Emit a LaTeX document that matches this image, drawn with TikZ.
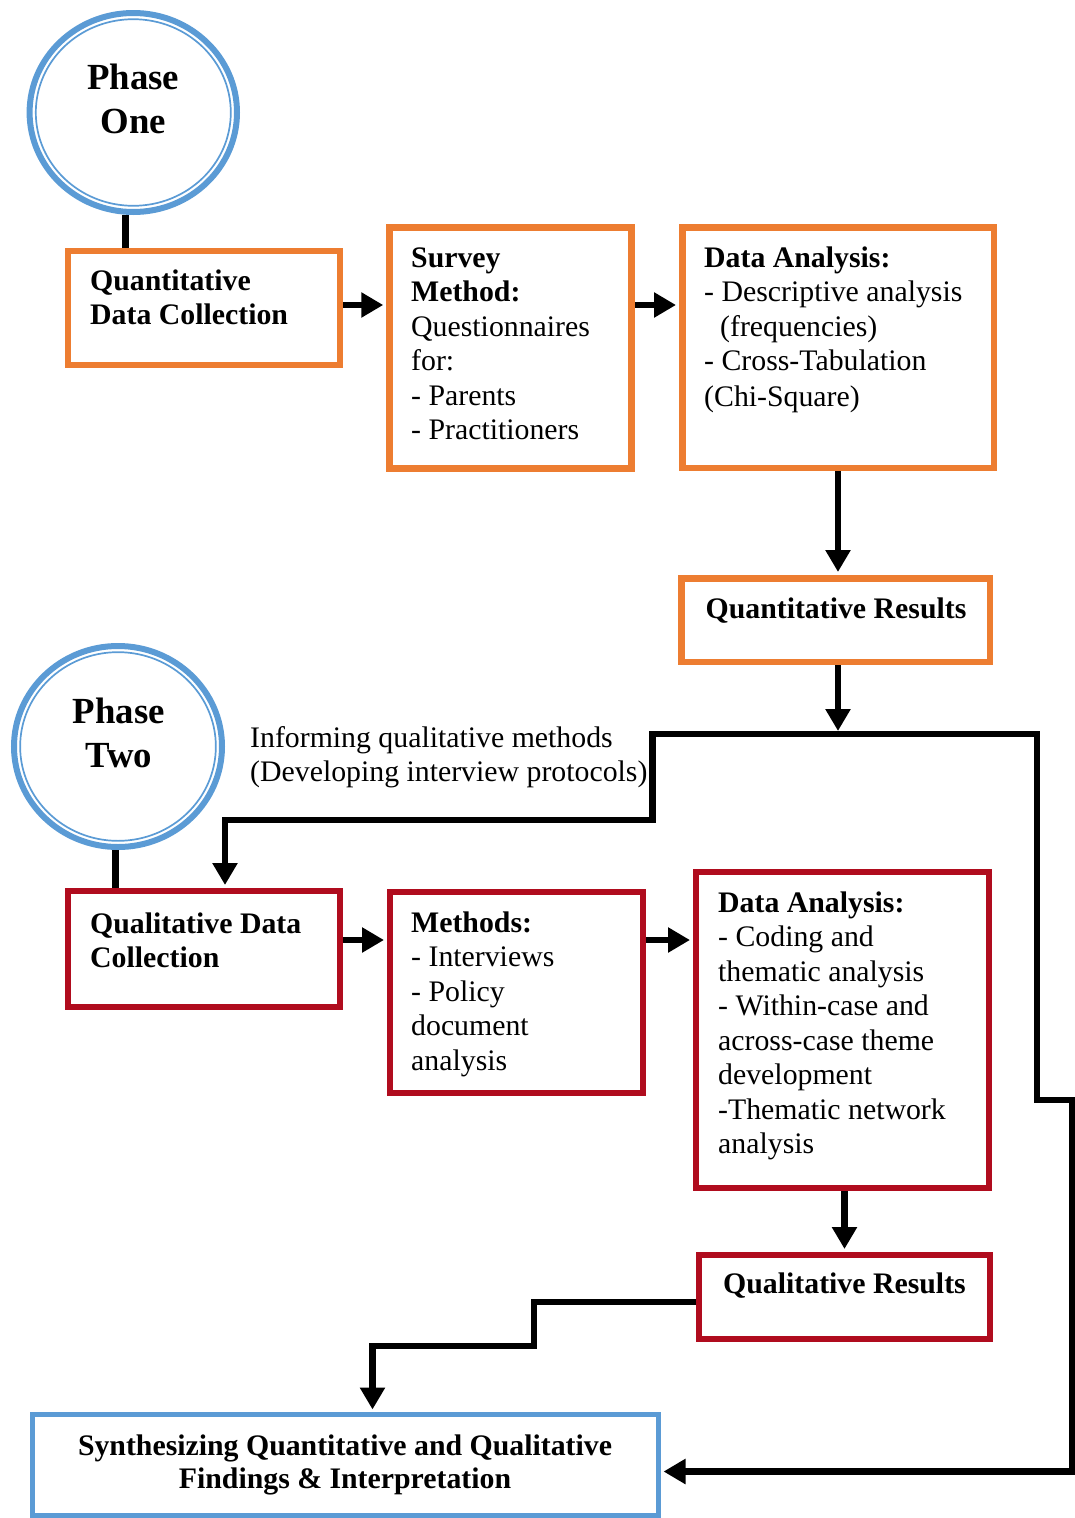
\documentclass[tikz,border=0pt]{standalone}
\usepackage{fontspec}
\setmainfont{Liberation Serif}
\usetikzlibrary{arrows.meta,shapes.geometric}
\definecolor{qorange}{RGB}{237,125,49}
\definecolor{qred}{RGB}{176,12,30}
\definecolor{qblue}{RGB}{91,155,213}
\begin{document}
\begin{tikzpicture}[x=1pt,y=-1pt,
  box/.style={draw, rectangle, inner sep=0pt},
  quant/.style={box, draw=qorange, line width=6.5pt},
  qual/.style={box, draw=qred, line width=6pt},
  synth/.style={box, draw=qblue, line width=5pt},
  phase/.style={draw=qblue, ellipse, line width=6pt, inner sep=0pt},
  ring/.style={draw=qblue, line width=1.7pt},
  body/.style={inner sep=0pt, anchor=base west, font=\fontsize{29.8}{34.5}\selectfont},
  phasetxt/.style={inner sep=0pt, anchor=base, font=\fontsize{36.8}{44}\selectfont},
  link/.style={line width=6.5pt, draw=black},
  arrow/.style={link, -{Triangle[length=22pt,width=24pt]}, shorten >=3pt},
]
\useasboundingbox (0,0) rectangle (1074,1518);

% ---- phase markers
\node[phase, minimum width=207.4pt, minimum height=199pt] (p1) at (133.3,112.5) {};
\draw[ring] (p1.center) ellipse [x radius=97.5pt, y radius=93.3pt];
\node[phasetxt] (pt1) at (133.3,89) {\parbox[t]{200pt}{\centering\bfseries Phase\\One}};

\node[phase, minimum width=208pt, minimum height=201pt] (p2) at (118,746.5) {};
\draw[ring] (p2.center) ellipse [x radius=97.85pt, y radius=94.35pt];
\node[phasetxt] (pt2) at (119,723) {\parbox[t]{200pt}{\centering\bfseries Phase\\Two}};

% ---- quantitative strand
\node[quant, minimum width=272pt, minimum height=114pt] (q1) at (204,308) {};
\node[quant, minimum width=242pt, minimum height=241pt] (sv) at (510.5,348) {};
\node[quant, minimum width=311.5pt, minimum height=240.5pt] (da1) at (838,347.5) {};
\node[quant, minimum width=308.5pt, minimum height=83.5pt] (qr) at (835.5,620) {};

\node[body] (t1) at (90,290) {\parbox[t]{250pt}{\raggedright\bfseries Quantitative\\Data Collection}};
\node[body] (t2) at (411,267) {\parbox[t]{220pt}{\raggedright\textbf{Survey}\\\textbf{Method:}\\Questionnaires\\for:\\- Parents\\- Practitioners}};
\node[body] (t3) at (704,267) {\parbox[t]{290pt}{\raggedright\textbf{Data Analysis:}\\- Descriptive analysis\\\hspace*{16pt}(frequencies)\\- Cross-Tabulation\\[1.5pt](Chi-Square)}};
\node[body, anchor=base] (t4) at (836,618) {\bfseries Quantitative Results};

% ---- qualitative strand
\node[qual, minimum width=272pt, minimum height=116pt] (q2) at (204,949) {};
\node[qual, minimum width=253pt, minimum height=201pt] (mt) at (516.5,992.5) {};
\node[qual, minimum width=293pt, minimum height=316.5pt] (da2) at (842.5,1029.75) {};
\node[qual, minimum width=291pt, minimum height=84pt] (ql) at (844.5,1297) {};

\node[body] (t5) at (90,933) {\parbox[t]{250pt}{\raggedright\bfseries Qualitative Data\\Collection}};
\node[body] (t6) at (411,932) {\parbox[t]{230pt}{\raggedright\textbf{Methods:}\\- Interviews\\- Policy\\document\\analysis}};
\node[body] (t7) at (718,912) {\parbox[t]{270pt}{\raggedright\textbf{Data Analysis:}\\- Coding and\\thematic analysis\\- Within-case and\\across-case theme\\development\\-Thematic network\\analysis}};
\node[body, anchor=base] (t8) at (844.5,1293) {\bfseries Qualitative Results};

\node[body] (t9) at (250,747) {\parbox[t]{420pt}{\raggedright Informing qualitative methods\\(Developing interview protocols)}};

% ---- synthesis
\node[synth, minimum width=626pt, minimum height=101pt] (syn) at (345.5,1465) {};
\node[inner sep=0pt, anchor=base, font=\fontsize{29.8}{33}\selectfont] (t10) at (345,1455)
  {\parbox[t]{620pt}{\centering\bfseries Synthesizing Quantitative and Qualitative\\Findings \& Interpretation}};

% ---- phase links
\coordinate (a1) at ([xshift=-7.8pt]p1.south);
\draw[link] (a1) -- (a1 |- q1.north);
\coordinate (a2) at ([xshift=-2.5pt]p2.south);
\draw[link] (a2) -- (a2 |- q2.north);

% ---- quantitative flow
\coordinate (y1) at (0,305);
\draw[arrow] (q1.east |- y1) -- (sv.west |- y1);
\draw[arrow] (sv.east |- y1) -- (da1.west |- y1);
\draw[arrow] (da1.south) -- (da1.south |- qr.north);

\coordinate (j) at (838,734);
\draw[arrow] (da1.south |- qr.south) -- (j);

% feedback into the qualitative phase
\coordinate (c1) at (652.5,734);
\coordinate (c2) at (652.5,820);
\coordinate (c3) at (225,820);
\draw[arrow] (j) -- (c1) -- (c2) -- (c3) -- (c3 |- q2.north);

% route to the synthesis box
\coordinate (c4) at (1037,734);
\coordinate (c5) at (1037,1100);
\coordinate (c6) at (1072,1100);
\coordinate (c7) at (1072,1471.5);
\draw[arrow, shorten >=2.5pt] (j) -- (c4) -- (c5) -- (c6) -- (c7) -- (c7 -| syn.east);

% ---- qualitative flow
\coordinate (y2) at (0,940);
\draw[arrow] (q2.east |- y2) -- (mt.west |- y2);
\draw[arrow] (mt.east |- y2) -- (da2.west |- y2);
\draw[arrow] (ql.north |- da2.south) -- (ql.north);

\coordinate (y3) at (0,1302);
\coordinate (c8) at (534,1302);
\coordinate (c9) at (534,1346);
\coordinate (c10) at (372.5,1346);
\draw[arrow, shorten >=2.5pt] (ql.west |- y3) -- (c8) -- (c9) -- (c10) -- (c10 |- syn.north);
\end{tikzpicture}
\end{document}
